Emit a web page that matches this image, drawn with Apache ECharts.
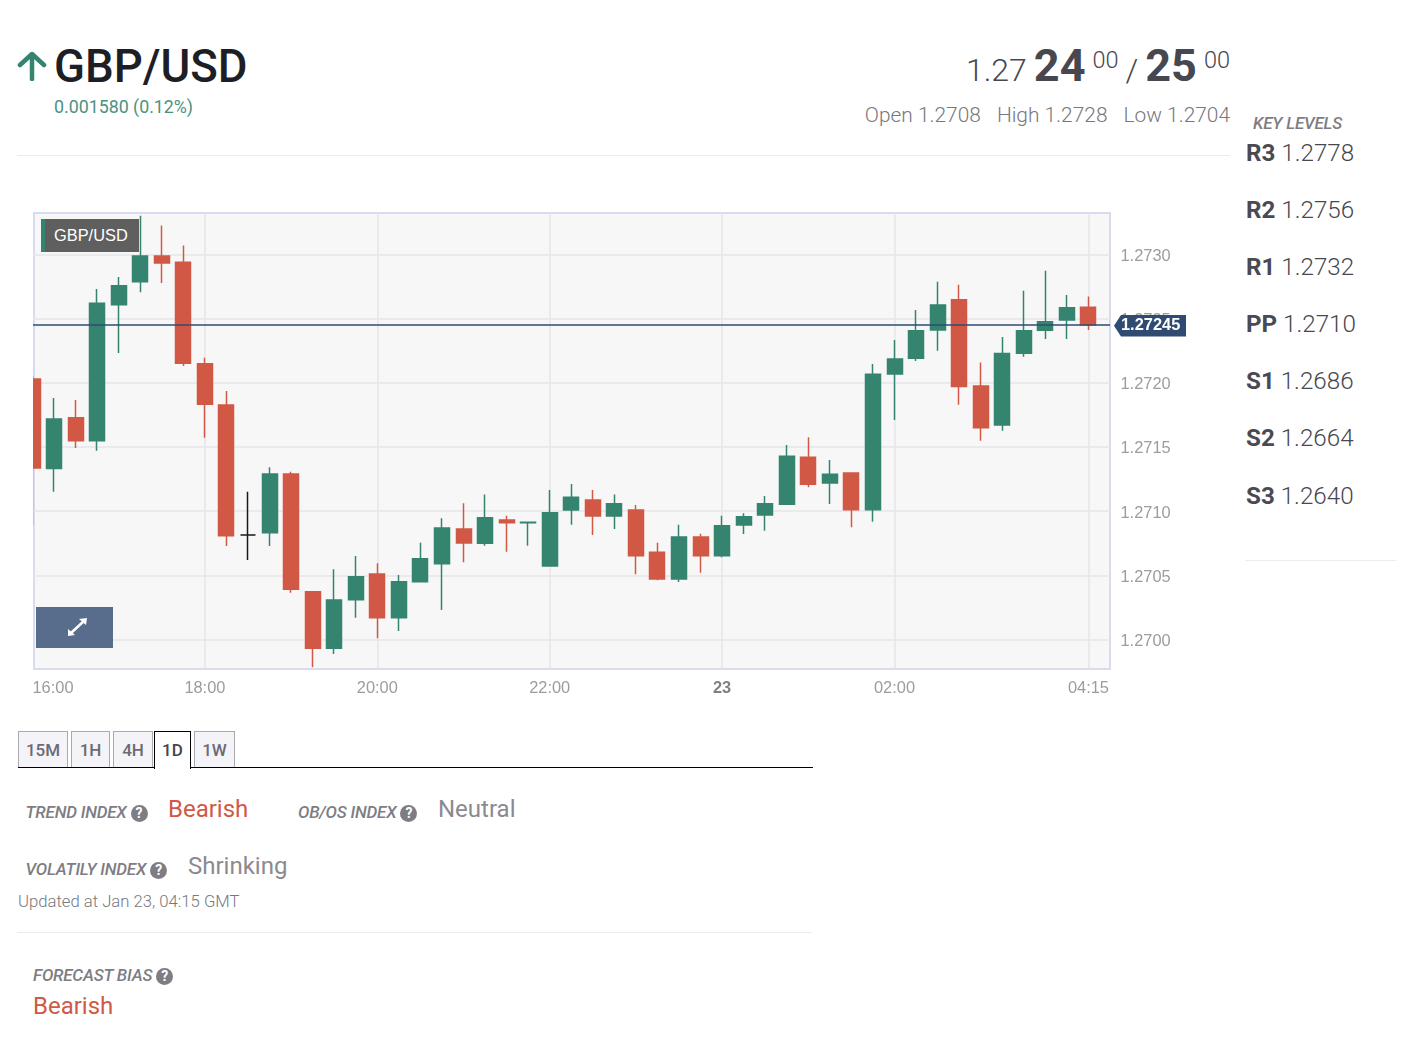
<!DOCTYPE html>
<html>
<head>
<meta charset="utf-8">
<title>GBP/USD</title>
<script src="https://cdn.jsdelivr.net/npm/echarts@6/dist/echarts.min.js"></script>
<style>
    html, body {margin: 0; padding: 0; background: #fff;}
    body {position: relative; width: 1402px; height: 1057px; overflow: hidden; font-family: Roboto, sans-serif;}
    .abs {position: absolute; white-space: nowrap;}
    .rule {position: absolute; height: 1px; background: #ececec;}
    #plot {position: absolute; left: 33px; top: 212px; width: 1074px; height: 454px; background: #f7f7f7; border: 2px solid #d9dcf0;}
    #chart {position: absolute; left: 0; top: 200px; width: 1240px; height: 510px;}
    #cover {position: absolute; left: 0; top: 200px; width: 33px; height: 480px; background: #fff;}
    .symbol-tag {position: absolute; left: 41px; top: 219px; width: 94px; height: 33px; background: #5f5f5f; border-left: 4px solid #348470;
        color: #fff; font: 16.4px "Liberation Sans", sans-serif; line-height: 33px; text-indent: 9px;}
    .expand {position: absolute; left: 36px; top: 607px; width: 77px; height: 41px; background: #586c8b;}
    .price {right: 172px; top: 35.5px; color: #47474f; font-size: 0; font-weight: 300; line-height: 60px;}
    .price > * {margin-left: 7px;}
    .price b {font-size: 45px; font-weight: 700;}
    .price .small {font-size: 32px;}
    .price sup {font-size: 23.5px; vertical-align: 13px; line-height: 0;}
    .ohlc {right: 172px; top: 100px; font-size: 20.9px; font-weight: 300; color: #77777d; line-height: 30px;}
    .ohlc span {margin-left: 16px;}
    .level {left: 1246px; font-size: 24.2px; font-weight: 300; color: #47474f; line-height: 30px;}
    .level b {font-weight: 700; color: #4a4a52;}
    .caption {font-style: italic; font-weight: 500; font-size: 17px; letter-spacing: -0.2px; color: #7d7d83; line-height: 22px;}
    .hint {display: inline-block; width: 17px; height: 17px; margin-left: 4px; border-radius: 50%; background: #7d7d83; color: #fff; font-size: 14px; font-weight: 700;
        font-style: normal; line-height: 17px; text-align: center; letter-spacing: 0; vertical-align: 0;}
    .value {font-size: 24px; line-height: 30px; color: #8a8a90;}
    .bearish {color: #d25846;}
    .tab {position: absolute; top: 731px; height: 36px; box-sizing: border-box; background: #f3f3f8; border: 1px solid #a9a9b0; border-bottom: none;
        color: #6b6b73; font-size: 17px; font-weight: 500; line-height: 37px; text-align: center;}
    .tab.active {height: 38px; background: #fff; border: 1.5px solid #000; border-bottom: none; color: #45454d; z-index: 2;}
</style>
</head>
<body>
<svg class="abs" style="left:17px;top:51px" width="30" height="30" viewBox="0 0 30 30">
    <path d="M15 28 L15 3 M3 14 L15 3 L27 14" fill="none" stroke="#348470" stroke-width="4.5" stroke-linecap="round" stroke-linejoin="round"/>
</svg>
<div class="abs" style="left:54px;top:39px;font-size:45.5px;font-weight:500;color:#1d1e26;line-height:56px">GBP/USD</div>
<div class="abs" style="left:54px;top:95px;font-size:17.8px;font-weight:400;color:#4b927f;line-height:24px">0.001580 (0.12%)</div>
<div class="abs price"><span class="small">1.27</span><b>24</b><sup>00</sup><span class="small">/</span><b>25</b><sup>00</sup></div>
<div class="abs ohlc">Open 1.2708<span>High 1.2728</span><span>Low 1.2704</span></div>
<div class="rule" style="left:17px;top:155px;width:1213px"></div>

<div class="abs caption" style="left:1253px;top:112px">KEY LEVELS</div>
<div class="abs level" style="top:138px"><b>R3</b> 1.2778</div>
<div class="abs level" style="top:195px"><b>R2</b> 1.2756</div>
<div class="abs level" style="top:252px"><b>R1</b> 1.2732</div>
<div class="abs level" style="top:309px"><b>PP</b> 1.2710</div>
<div class="abs level" style="top:366px"><b>S1</b> 1.2686</div>
<div class="abs level" style="top:423px"><b>S2</b> 1.2664</div>
<div class="abs level" style="top:481px"><b>S3</b> 1.2640</div>
<div class="rule" style="left:1245px;top:560px;width:151px"></div>

<div id="plot"></div>
<div id="chart"></div>
<div id="cover"></div>
<div class="symbol-tag">GBP/USD</div>
<div class="expand">
    <svg style="position:absolute;left:30px;top:9px" width="24" height="22" viewBox="0 0 24 22">
        <path d="M5 17 L18 5" stroke="#fff" stroke-width="2.5"/>
        <path d="M13 3 L21 2 L20 9 Z M2 13 L9 19 L2 20 Z" fill="#fff"/>
    </svg>
</div>

<div class="tab" style="left:18px;width:50px">15M</div>
<div class="tab" style="left:71px;width:39px">1H</div>
<div class="tab" style="left:113px;width:40px">4H</div>
<div class="tab active" style="left:154px;width:37px">1D</div>
<div class="tab" style="left:194px;width:41px">1W</div>
<div class="abs" style="left:18px;top:767px;width:795px;height:1px;background:#000"></div>

<div class="abs caption" style="left:25.5px;top:801px">TREND INDEX<span class="hint">?</span></div>
<div class="abs value bearish" style="left:168px;top:794px">Bearish</div>
<div class="abs caption" style="left:298px;top:801px">OB/OS INDEX<span class="hint">?</span></div>
<div class="abs value" style="left:438px;top:794px">Neutral</div>
<div class="abs caption" style="left:25.5px;top:858px">VOLATILY INDEX<span class="hint">?</span></div>
<div class="abs value" style="left:188px;top:851px">Shrinking</div>
<div class="abs" style="left:18px;top:891px;font-size:16.7px;font-weight:300;color:#77777d;line-height:22px">Updated at Jan 23, 04:15 GMT</div>
<div class="rule" style="left:17px;top:932px;width:795px"></div>
<div class="abs caption" style="left:33px;top:964px">FORECAST BIAS<span class="hint">?</span></div>
<div class="abs value bearish" style="left:33px;top:991px">Bearish</div>

<script>
const timeLabels = [
    "16:00", "16:15", "16:30", "16:45", "17:00", "17:15", "17:30", "17:45",
    "18:00", "18:15", "18:30", "18:45", "19:00", "19:15", "19:30", "19:45",
    "20:00", "20:15", "20:30", "20:45", "21:00", "21:15", "21:30", "21:45",
    "22:00", "22:15", "22:30", "22:45", "23:00", "23:15", "23:30", "23:45",
    "23", "00:15", "00:30", "00:45", "01:00", "01:15", "01:30", "01:45",
    "02:00", "02:15", "02:30", "02:45", "03:00", "03:15", "03:30", "03:45",
    "04:00", "04:15", ""
];
const shownTimes = ["16:00", "18:00", "20:00", "22:00", "23", "02:00", "04:15"];
const priceTicks = [1.27, 1.2705, 1.271, 1.2715, 1.272, 1.2725, 1.273];
const lastPrice = 1.27245;

const openValues = [
    1.272030, 1.271333, 1.271728, 1.271549, 1.272608, 1.272787, 1.272988, 1.272938, 1.272149, 1.271827,
    1.270815, 1.270833, 1.271290, 1.270373, 1.269932, 1.270311, 1.270511, 1.270171, 1.270451, 1.270591,
    1.270861, 1.270750, 1.270932, 1.270910, 1.270573, 1.271009, 1.271087, 1.270963, 1.271009, 1.270680,
    1.270472, 1.270799, 1.270653, 1.270893, 1.270970, 1.271054, 1.271420, 1.271220, 1.271298, 1.271012,
    1.272069, 1.272191, 1.272411, 1.272647, 1.271975, 1.271671, 1.272230, 1.272409, 1.272489, 1.272588
];
const closeValues = [
    1.271336, 1.271718, 1.271549, 1.272619, 1.272756, 1.272988, 1.272933, 1.272152, 1.271833, 1.270809,
    1.270815, 1.271290, 1.270392, 1.269932, 1.270308, 1.270490, 1.270171, 1.270451, 1.270630, 1.270869,
    1.270752, 1.270949, 1.270910, 1.270914, 1.270988, 1.271108, 1.270963, 1.271058, 1.270653, 1.270472,
    1.270799, 1.270653, 1.270887, 1.270957, 1.271058, 1.271428, 1.271210, 1.271287, 1.271012, 1.272066,
    1.272185, 1.272406, 1.272606, 1.271970, 1.271650, 1.272227, 1.272406, 1.272476, 1.272585, 1.272450
];
const lowValues = [
    1.270893, 1.271152, 1.271492, 1.271471, 1.272232, 1.272705, 1.272777, 1.272131, 1.271572, 1.270729,
    1.270620, 1.270729, 1.270365, 1.269784, 1.269888, 1.270171, 1.270010, 1.270067, 1.270451, 1.270231,
    1.270602, 1.270731, 1.270685, 1.270731, 1.270573, 1.270895, 1.270815, 1.270861, 1.270509, 1.270462,
    1.270449, 1.270521, 1.270641, 1.270822, 1.270848, 1.271054, 1.271186, 1.271056, 1.270875, 1.270918,
    1.271710, 1.272170, 1.272250, 1.271829, 1.271549, 1.271627, 1.272203, 1.272341, 1.272341, 1.272411
];
const highValues = [
    1.272056, 1.271882, 1.271866, 1.272731, 1.272824, 1.273301, 1.273224, 1.273068, 1.272195, 1.271936,
    1.271152, 1.271342, 1.271308, 1.270373, 1.270548, 1.270651, 1.270594, 1.270503, 1.270755, 1.270945,
    1.271062, 1.271129, 1.270965, 1.270914, 1.271165, 1.271212, 1.271165, 1.271129, 1.271048, 1.270755,
    1.270895, 1.270825, 1.270965, 1.270984, 1.271118, 1.271516, 1.271576, 1.271399, 1.271298, 1.272146,
    1.272333, 1.272567, 1.272787, 1.272764, 1.272157, 1.272357, 1.272717, 1.272873, 1.272684, 1.272671
];

const chart = echarts.init(document.getElementById("chart"));
const candles = openValues.map((open, i) => [open, closeValues[i], lowValues[i], highValues[i]]);

function drawPriceTag(params, api) {
    const grid = params.coordSys;
    const x = grid.x + grid.width + 4;
    const y = api.coord([0, api.value(1)])[1] + 0.8;
    return {
        type: "group",
        children: [
            {
                type: "polygon",
                shape: {points: [[x, y], [x + 7, y - 10.8], [x + 72, y - 10.8], [x + 72, y + 10.8], [x + 7, y + 10.8]]},
                style: {fill: "#2f4b72"}
            },
            {
                type: "text",
                style: {
                    text: lastPrice.toFixed(5), x: x + 7, y, fill: "#fff",
                    font: 'bold 16.4px "Liberation Sans"', textAlign: "left", textVerticalAlign: "middle"
                }
            }
        ]
    };
}

chart.setOption({
    animation: false,
    grid: {left: 32.5, top: 13, width: 1077.5, height: 455.5},
    xAxis: {
        type: "category",
        data: timeLabels,
        boundaryGap: false,
        axisLine: {show: false},
        axisTick: {show: false},
        axisLabel: {
            interval: (index, label) => shownTimes.includes(label),
            formatter: label => label === "23" ? "{day|23}" : label,
            alignMinLabel: "left",
            margin: 12,
            color: "#9c9c9c",
            fontFamily: "Liberation Sans",
            fontSize: 16.4,
            rich: {day: {fontWeight: "bold", color: "#808080", fontFamily: "Liberation Sans", fontSize: 16.4}}
        },
        splitLine: {
            show: true,
            interval: (index, label) => shownTimes.includes(label) && index > 0,
            lineStyle: {color: "#e6e6ea", width: 1.5}
        }
    },
    yAxis: {
        type: "value",
        position: "right",
        min: 1.269775,
        max: 1.273322,
        axisLine: {show: false},
        axisTick: {show: false, customValues: priceTicks},
        axisLabel: {
            customValues: priceTicks,
            formatter: value => `{price|${value.toFixed(4)}}`,
            margin: 10.5,
            rich: {price: {padding: [4, 0, 0, 0], color: "#9c9c9c", fontFamily: "Liberation Sans", fontSize: 16.4}}
        },
        splitLine: {show: true, lineStyle: {color: "#e6e6ea", width: 1.5}}
    },
    series: [
        {
            type: "candlestick",
            data: candles,
            barWidth: 15.5,
            itemStyle: {
                color: "#348470",
                color0: "#d25846",
                borderColor: "#348470",
                borderColor0: "#d25846",
                borderColorDoji: "#1a1a1a",
                borderWidth: 1.5
            },
            markLine: {
                silent: true,
                animation: false,
                precision: 5,
                symbol: "none",
                label: {show: false},
                lineStyle: {color: "#2f4b72", width: 1.5, type: "solid"},
                data: [{yAxis: lastPrice}]
            }
        },
        {
            type: "custom",
            renderItem: drawPriceTag,
            data: [[0, lastPrice]],
            encode: {x: 0, y: 1},
            silent: true,
            z: 10
        }
    ]
});

window.addEventListener("resize", () => chart.resize());
</script>
</body>
</html>
